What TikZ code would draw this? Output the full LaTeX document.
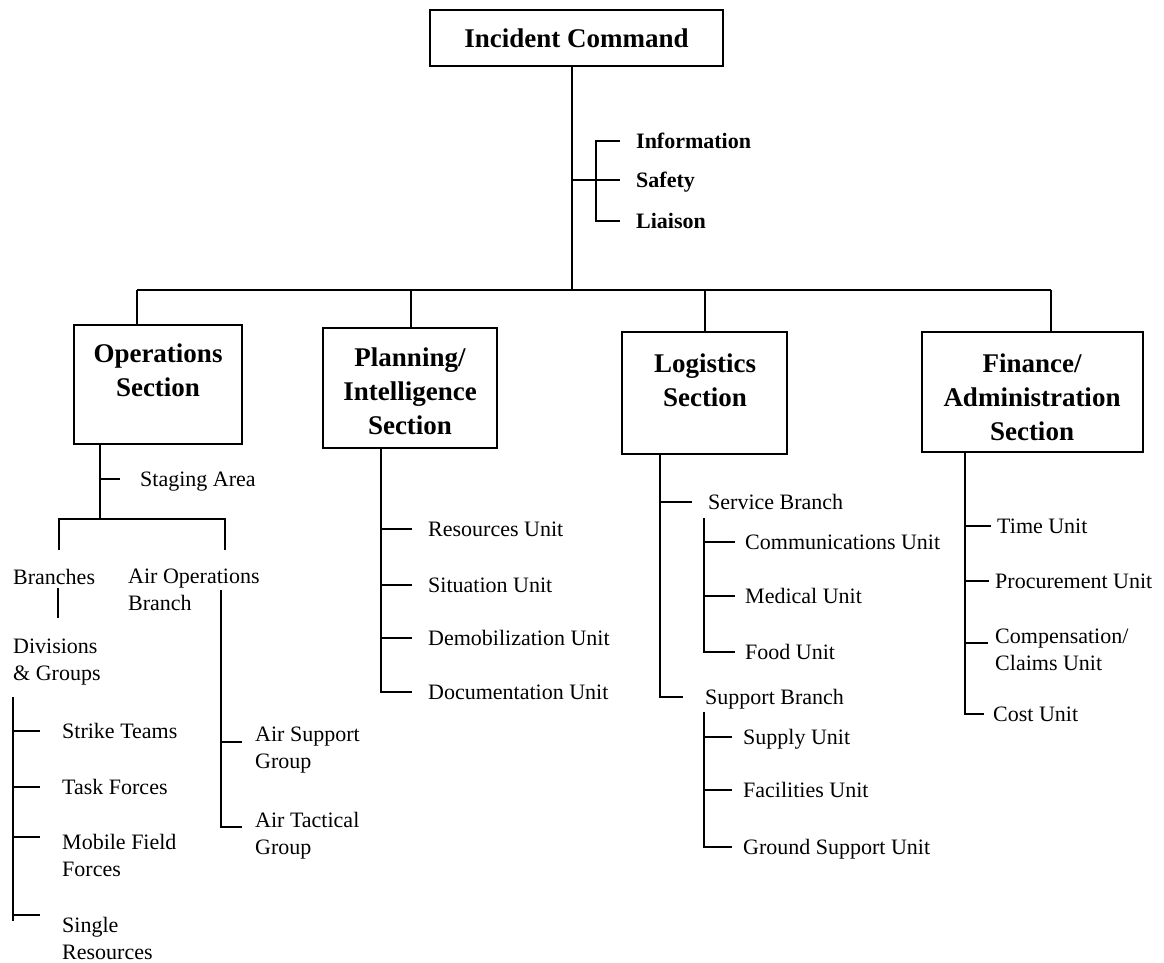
\documentclass[tikz,border=0pt]{standalone}
\usepackage{fontspec}
\setmainfont{Liberation Serif}
\begin{document}
\begin{tikzpicture}[x=1pt,y=-1pt,
  conn/.style={line width=1.1pt},
  box/.style={draw,line width=1.3pt,inner sep=0pt},
  head/.style={font=\fontsize{27}{34}\selectfont\bfseries,align=center,anchor=north,inner sep=0pt},
  staff/.style={font=\fontsize{22}{27}\selectfont\bfseries,anchor=west,inner sep=0pt,text height=14.5pt,text depth=0pt},
  lbl/.style={font=\fontsize{22}{27}\selectfont,anchor=west,inner sep=0pt,text height=14.5pt,text depth=0pt},
  lbltwo/.style={font=\fontsize{22}{27}\selectfont,anchor=north west,inner sep=0pt,align=left},
]
\useasboundingbox (0,0) rectangle (1164,963);

% ---------- top ----------
\node[box,minimum width=293pt,minimum height=56pt,font=\fontsize{27}{34}\selectfont\bfseries] (ic) at (576.5,38) {Incident Command};
\coordinate (trunkB) at (572,290);
\draw[conn] (ic.south -| trunkB) -- (trunkB);

\node[staff] (info) at (636,141) {Information};
\node[staff] (safety) at (636,180) {Safety};
\node[staff] (liaison) at (636,221) {Liaison};
\coordinate (stJ) at (572,180);
\draw[conn] (stJ) -- ([xshift=-16pt]safety.west);
\draw[conn] ([xshift=-16pt]info.west) -| ([xshift=-40pt]liaison.west) -- ([xshift=-16pt]liaison.west);

% ---------- sections ----------
\node[box,minimum width=168pt,minimum height=119pt] (ops) at (158,384.5) {};
\node[box,minimum width=174pt,minimum height=120pt] (plan) at (410,388) {};
\node[box,minimum width=165pt,minimum height=122pt] (log) at (704.5,393) {};
\node[box,minimum width=221pt,minimum height=120pt] (fin) at (1032.5,392) {};
\node[head] (opsT) at (158,344) {Operations\\Section};
\node[head] (planT) at (410,348) {Planning/\\Intelligence\\Section};
\node[head] (logT) at (705,354) {Logistics\\Section};
\node[head] (finT) at (1032,354) {Finance/\\Administration\\Section};

\coordinate (busL) at (137,290);
\coordinate (dPlan) at (411,290);
\coordinate (dLog) at (705,290);
\coordinate (busR) at (1051,290);
\draw[conn] (busL) -- (busR);
\draw[conn] (busL) -- (busL |- ops.north);
\draw[conn] (dPlan) -- (dPlan |- plan.north);
\draw[conn] (dLog) -- (dLog |- log.north);
\draw[conn] (busR) -- (busR |- fin.north);

% ---------- operations ----------
\node[lbl] (staging) at (140,479) {Staging Area};
\coordinate (oV) at (100,0);
\coordinate (oJ) at (100,519);
\draw[conn] (oV |- ops.south) -- (oJ);
\draw[conn] (oV |- staging.west) -- ([xshift=-20pt]staging.west);
\coordinate (brT) at (59,550);
\coordinate (aoT) at (225,550);
\draw[conn] (brT) |- (oJ) -| (aoT);

\node[lbl] (branches) at (13,577) {Branches};
\node[lbltwo] (aob) at (128,569) {Air Operations\\Branch};
\node[lbltwo] (divs) at (13,639) {Divisions\\\& Groups};
\coordinate (b1) at (58,588);
\coordinate (b2) at (58,618);
\draw[conn] (b1) -- (b2);

\node[lbl] (strike) at (62,731) {Strike Teams};
\node[lbl] (task) at (62,787) {Task Forces};
\node[lbltwo] (mobile) at (62,834) {Mobile Field\\Forces};
\node[lbltwo] (single) at (62,917) {Single\\Resources};
\coordinate (dvT) at (13,697);
\coordinate (tm) at ([yshift=-3pt]mobile.north west);
\coordinate (ts) at ([yshift=2pt]single.north west);
\draw[conn] (dvT) -- (dvT |- 0,921);
\draw[conn] (dvT |- strike.west) -- ([xshift=-22pt]strike.west);
\draw[conn] (dvT |- task.west) -- ([xshift=-22pt]task.west);
\draw[conn] (dvT |- tm) -- ([xshift=-22pt]tm);
\draw[conn] (dvT |- ts) -- ([xshift=-22pt]ts);

\node[lbltwo] (airsup) at (255,727) {Air Support\\Group};
\node[lbltwo] (airtac) at (255,812) {Air Tactical\\Group};
\coordinate (asT) at (221,590);
\coordinate (ta) at ([yshift=-15pt]airsup.north west);
\coordinate (tt) at ([yshift=-15pt]airtac.north west);
\draw[conn] (asT) |- ([xshift=-13pt]tt);
\draw[conn] (asT |- ta) -- ([xshift=-13pt]ta);

% ---------- planning ----------
\node[lbl] (res) at (428,529) {Resources Unit};
\node[lbl] (sit) at (428,585) {Situation Unit};
\node[lbl] (demob) at (428,638) {Demobilization Unit};
\node[lbl] (doc) at (428,692) {Documentation Unit};
\coordinate (pS) at (381,0);
\draw[conn] (pS |- plan.south) |- ([xshift=-16pt]doc.west);
\draw[conn] (pS |- res.west) -- ([xshift=-16pt]res.west);
\draw[conn] (pS |- sit.west) -- ([xshift=-16pt]sit.west);
\draw[conn] (pS |- demob.west) -- ([xshift=-16pt]demob.west);

% ---------- logistics ----------
\node[lbl] (svc) at (708,502) {Service Branch};
\node[lbl] (sup) at (705,697) {Support Branch};
\coordinate (lS) at (660,0);
\draw[conn] (lS |- log.south) |- ([xshift=-22pt]sup.west);
\draw[conn] (lS |- svc.west) -- ([xshift=-16pt]svc.west);

\node[lbl] (comm) at (745,542) {Communications Unit};
\node[lbl] (med) at (745,596) {Medical Unit};
\node[lbl] (food) at (745,652) {Food Unit};
\coordinate (svT) at (704,518);
\draw[conn] (svT) |- ([xshift=-10pt]food.west);
\draw[conn] (svT |- comm.west) -- ([xshift=-10pt]comm.west);
\draw[conn] (svT |- med.west) -- ([xshift=-10pt]med.west);

\node[lbl] (supply) at (743,737) {Supply Unit};
\node[lbl] (facil) at (743,790) {Facilities Unit};
\node[lbl] (ground) at (743,847) {Ground Support Unit};
\coordinate (spT) at (704,712);
\draw[conn] (spT) |- ([xshift=-11pt]ground.west);
\draw[conn] (spT |- supply.west) -- ([xshift=-11pt]supply.west);
\draw[conn] (spT |- facil.west) -- ([xshift=-11pt]facil.west);

% ---------- finance ----------
\node[lbl] (time) at (997,526) {Time Unit};
\node[lbl] (proc) at (995,581) {Procurement Unit};
\node[lbltwo] (comp) at (995,629) {Compensation/\\Claims Unit};
\node[lbl] (cost) at (993,714) {Cost Unit};
\coordinate (fS) at (965,0);
\coordinate (tc) at ([yshift=-14pt]comp.north west);
\draw[conn] (fS |- fin.south) |- ([xshift=-9pt]cost.west);
\draw[conn] (fS |- time.west) -- ([xshift=-6pt]time.west);
\draw[conn] (fS |- proc.west) -- ([xshift=-6pt]proc.west);
\draw[conn] (fS |- tc) -- ([xshift=-7pt]tc);
\end{tikzpicture}
\end{document}
